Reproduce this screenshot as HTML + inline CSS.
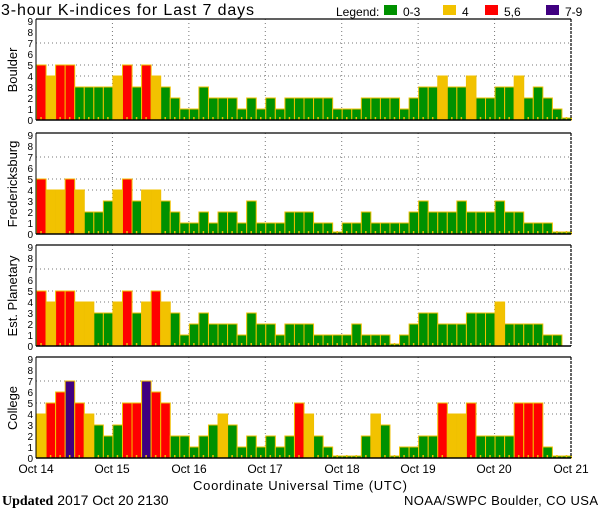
<!DOCTYPE html>
<html><head><meta charset="utf-8"><style>
html,body{margin:0;padding:0;background:#fff;width:600px;height:510px;overflow:hidden}
svg{display:block;font-family:"Liberation Sans",sans-serif}
</style></head><body>
<svg id="s" width="600" height="510" xmlns="http://www.w3.org/2000/svg">
<text x="1" y="15" font-size="16" fill="#000" textLength="253" lengthAdjust="spacing">3-hour K-indices for Last 7 days</text>
<text x="336" y="16" font-size="12">Legend:</text>
<rect x="384" y="5" width="13" height="10" fill="#009100"/><text x="403" y="16" font-size="12">0-3</text>
<rect x="443" y="5" width="13" height="10" fill="#f2c200"/><text x="462" y="16" font-size="12">4</text>
<rect x="485" y="5" width="13" height="10" fill="#ff0000"/><text x="504" y="16" font-size="12">5,6</text>
<rect x="546" y="5" width="13" height="10" fill="#400080"/><text x="565" y="16" font-size="12">7-9</text>
<g font-size="12" text-anchor="middle">
<text x="36" y="473">Oct 14</text><text x="112" y="473">Oct 15</text><text x="189" y="473">Oct 16</text><text x="265" y="473">Oct 17</text><text x="342" y="473">Oct 18</text><text x="418" y="473">Oct 19</text><text x="494" y="473">Oct 20</text><text x="571" y="473">Oct 21</text>
</g>
<text x="300" y="490" font-size="13" text-anchor="middle" textLength="214" lengthAdjust="spacing">Coordinate Universal Time (UTC)</text>
<text x="2" y="505" font-size="14"><tspan font-family="Liberation Serif" font-weight="bold">Updated</tspan> 2017 Oct 20 2130</text>
<text x="598" y="505" font-size="13" text-anchor="end" textLength="194" lengthAdjust="spacing">NOAA/SWPC Boulder, CO USA</text>
</svg>
<script>
var data=[
["Boulder",120,[5,4,5,5,3,3,3,3,4,5,3,5,4,3,2,1,1,3,2,2,2,1,2,1,2,1,2,2,2,2,2,1,1,1,2,2,2,2,1,2,3,3,4,3,3,4,2,2,3,3,4,2,3,2,1,0]],
["Fredericksburg",234,[5,4,4,5,4,2,2,3,4,5,3,4,4,3,2,1,1,2,1,2,2,1,3,1,1,1,2,2,2,1,1,0,1,1,2,1,1,1,1,2,3,2,2,2,3,2,2,2,3,2,2,1,1,1,0,0]],
["Est. Planetary",346,[5,4,5,5,4,4,3,3,4,5,3,4,5,4,3,1,2,3,2,2,2,1,3,2,2,1,2,2,2,1,1,1,1,2,1,1,1,0,1,2,3,3,2,2,2,3,3,3,4,2,2,2,2,1,1,-1]],
["College",458,[4,5,6,7,5,4,3,2,3,5,5,7,6,5,2,2,1,2,3,4,3,1,2,1,2,1,2,5,4,2,1,0,0,0,2,4,3,0,1,1,2,2,5,4,4,5,2,2,2,2,5,5,5,1,0,0]]];
var s=document.getElementById('s'),h='';
var L=36,R=571,W=(R-L)/56,U=11;
function col(v){return v<=3?'#009100':v==4?'#f2c200':v<=6?'#ff0000':'#400080';}
data.forEach(function(p){
 var B=p[1],T=B-101;
 [4,5,7].forEach(function(v){h+='<line x1="'+L+'" x2="'+R+'" y1="'+(B-v*U)+'" y2="'+(B-v*U)+'" stroke="#777" stroke-dasharray="1,3"/>';});
 for(var k=1;k<7;k++){var x=L+k*(R-L)/7;h+='<line x1="'+x+'" x2="'+x+'" y1="'+T+'" y2="'+B+'" stroke="#777" stroke-dasharray="1,3"/>';}
 p[2].forEach(function(v,i){
  if(v<0)return;
  var x=L+i*W,hh=v==0?2:v*U;
  h+='<rect x="'+(x+0.5)+'" y="'+(B-hh)+'" width="'+(W)+'" height="'+hh+'" fill="'+col(v)+'" stroke="#f0c000" stroke-width="1"/>';
  h+='<rect x="'+(x+W/2-0.5)+'" y="'+(B-3)+'" width="1.5" height="3" fill="#f0c000"/>';
 });
 h+='<line x1="'+L+'" x2="'+R+'" y1="'+T+'" y2="'+T+'" stroke="#000" stroke-width="1.2"/>';
 h+='<line x1="'+L+'" x2="'+R+'" y1="'+B+'" y2="'+B+'" stroke="#000" stroke-width="1.5"/>';
 h+='<line x1="'+L+'" x2="'+L+'" y1="'+T+'" y2="'+B+'" stroke="#000" stroke-width="1"/>';
 h+='<line x1="'+R+'" x2="'+R+'" y1="'+T+'" y2="'+B+'" stroke="#000" stroke-width="1.2" stroke-dasharray="3,1"/>';
 for(var v=0;v<=9;v++)h+='<text x="33" y="'+(B-v*U+4)+'" font-size="10" text-anchor="end">'+v+'</text>';
 var cy=B-50;
 h+='<text transform="translate(17,'+cy+') rotate(-90)" font-size="13" text-anchor="middle">'+p[0]+'</text>';
});
s.insertAdjacentHTML('beforeend',h);
</script>
</body></html>
